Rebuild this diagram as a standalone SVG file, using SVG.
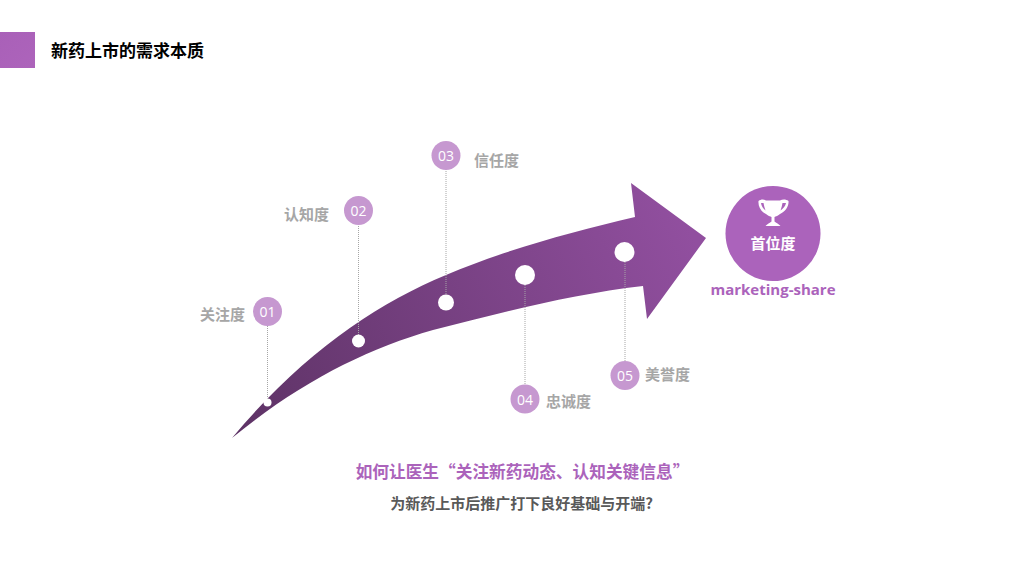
<svg xmlns="http://www.w3.org/2000/svg" width="1024" height="576" viewBox="0 0 1024 576">
<style>
text{font-family:"Noto Sans CJK SC","Noto Sans",sans-serif}
.lbl{font-size:15px;font-weight:700;fill:#a6a6a6}
.num{font-size:14px;fill:#fff;text-anchor:middle;font-family:"Open Sans","Noto Sans",sans-serif}
.badge{fill:#c698d0}
.dot{fill:#fff}
.lead{stroke:#a6a6a6;stroke-width:1;stroke-dasharray:1 1;fill:none}
</style>
<defs>
<linearGradient id="ar" gradientUnits="userSpaceOnUse" x1="240" y1="430" x2="690" y2="230">
<stop offset="0" stop-color="#5e3366"/><stop offset="1" stop-color="#914f9f"/>
</linearGradient>
<linearGradient id="hd" x1="0" y1="0" x2="1" y2="1">
<stop offset="0" stop-color="#a960b8"/><stop offset="1" stop-color="#ad64bb"/>
</linearGradient>
</defs>
<g id="header">
<rect x="0" y="32" width="35" height="36" fill="url(#hd)"/>
<text x="51" y="57" font-size="17" font-weight="700" fill="#000">新药上市的需求本质</text>
</g>
<g id="arrow">
<path d="M232 438C302 354 376 304 446 275C509 248.500 572 232 635 217L631 183L706 238L647 319L643 286C573 294 503 312 433 330C366 349 299 383 232 438Z" fill="url(#ar)"/>
</g>
<g id="connectors">
<line class="lead" x1="267.500" y1="320" x2="267.500" y2="402"/>
<line class="lead" x1="358.500" y1="220" x2="358.500" y2="341"/>
<line class="lead" x1="446" y1="165" x2="446" y2="302"/>
<line class="lead" x1="525" y1="275" x2="525" y2="390"/>
<line class="lead" x1="625" y1="252" x2="625" y2="368"/>
</g>
<g id="node-01">
<circle class="dot" cx="267.500" cy="402.500" r="4"/>
<circle class="badge" cx="267.500" cy="311.500" r="14.500"/>
<text class="num" x="267.500" y="317">01</text>
<text class="lbl" x="200" y="320">关注度</text>
</g>
<g id="node-02">
<circle class="dot" cx="358.500" cy="341" r="6.500"/>
<circle class="badge" cx="358.500" cy="210.500" r="14.500"/>
<text class="num" x="358.500" y="216">02</text>
<text class="lbl" x="284" y="220">认知度</text>
</g>
<g id="node-03">
<circle class="dot" cx="446" cy="302.500" r="8"/>
<circle class="badge" cx="446" cy="155.500" r="14.500"/>
<text class="num" x="446" y="161">03</text>
<text class="lbl" x="474" y="166">信任度</text>
</g>
<g id="node-04">
<circle class="dot" cx="525" cy="275" r="10"/>
<circle class="badge" cx="525" cy="399" r="14.500"/>
<text class="num" x="525" y="404.500">04</text>
<text class="lbl" x="546" y="407">忠诚度</text>
</g>
<g id="node-05">
<circle class="dot" cx="624.500" cy="252" r="10"/>
<circle class="badge" cx="625" cy="375.500" r="14.500"/>
<text class="num" x="625" y="381">05</text>
<text class="lbl" x="645" y="380">美誉度</text>
</g>
<g id="node-top">
<circle cx="773" cy="233.500" r="47.500" fill="#ab63bb"/>
<path fill="#fff" fill-rule="evenodd" d="M766 200.500H780C782.500 199 786 199 788.500 201C789 206 785.500 211.500 780 214C778.500 215.500 775.500 216.500 774.500 217V221.500C776 223 779 224 780.500 226H765.500C767 224 770 223 771.500 221.500V217C770.500 216.500 767.500 215.500 766 214C760.500 211.500 758 206 758.500 201C761 199 763.500 199 766 200.500ZM761 203C761.500 206 763 208.500 765.500 210.500C764.500 208 764 205.500 763.500 203ZM786 203H782.500C782 205.500 781.500 208 780.500 210.500C783 208.500 785.500 206 786 203Z"/>
<text x="773" y="249" font-size="15" font-weight="700" fill="#fff" text-anchor="middle">首位度</text>
<text x="773" y="295" font-size="15" font-weight="700" fill="#ab63bb" text-anchor="middle" style="font-family:'Open Sans','Noto Sans',sans-serif">marketing-share</text>
</g>
<g id="caption">
<text x="522.500" y="478" font-size="16.700" font-weight="700" fill="#ab63bb" text-anchor="middle">如何让医生“关注新药动态、认知关键信息”</text>
<text x="521.500" y="509" font-size="15" font-weight="700" fill="#595959" text-anchor="middle">为新药上市后推广打下良好基础与开端?</text>
</g>
</svg>
